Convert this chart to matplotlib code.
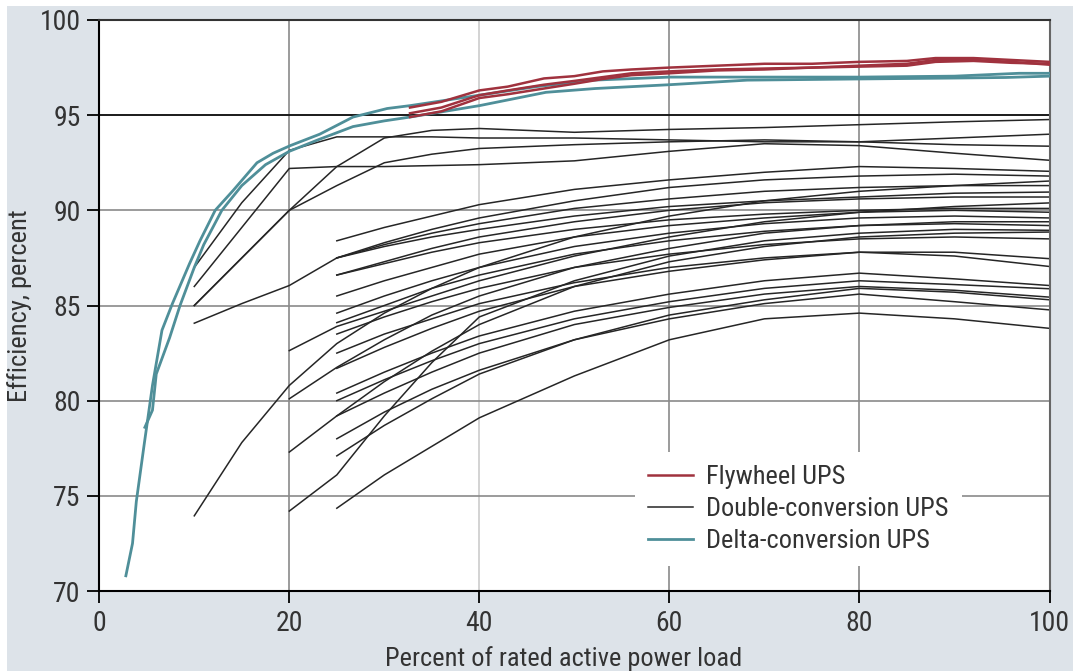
import matplotlib.pyplot as plt
import numpy as np
from matplotlib.patches import Rectangle

nan = np.nan

# load points (% of rated power) shared by the double-conversion curves
load_pct = [10, 15, 20, 25, 30, 35, 40, 50, 60, 70, 80, 90, 100]

# double-conversion UPS efficiency curves
dc_k1 = [87.0, 90.4, 93.15, 93.86, 93.86, 93.86, 93.8, 93.8, 93.7, 93.6, 93.6, 93.8, 94.0]
dc_k2 = [86.0, 89.1, 92.2, 92.3, 92.3, 92.35, 92.4, 92.6, 93.1, 93.5, 93.4, 93.0, 92.63]
dc_k3 = [85.0, 87.5, 90.0, 92.3, 93.8, 94.2, 94.3, 94.1, 94.25, 94.35, 94.5, 94.65, 94.77]
dc_k4 = [85.0, 87.5, 90.0, 91.3, 92.5, 92.95, 93.25, 93.45, 93.6, 93.7, 93.6, 93.45, 93.37]
dc_a5 = [84.07, 85.1, 86.05, 87.5, 88.1, 88.6, 89.0, 89.7, 90.2, 90.5, 90.7, 90.9, 90.96]
dc_a6 = [73.95, 77.8, 80.8, 83.0, 84.6, 85.9, 87.0, 88.6, 89.7, 90.5, 91.0, 91.3, 91.54]
dc_b1 = [nan, nan, 82.63, 83.9, 84.7, 85.5, 86.3, 87.6, 88.6, 89.4, 89.9, 90.2, 90.39]
dc_b2 = [nan, nan, 80.1, 81.75, 83.2, 84.5, 85.5, 87.0, 88.0, 88.8, 89.2, 89.4, 89.4]
dc_b3 = [nan, nan, 77.3, 79.2, 81.0, 82.6, 84.0, 86.0, 87.3, 88.1, 88.6, 88.8, 88.86]
dc_b4 = [nan, nan, 74.2, 76.1, 79.2, 82.0, 84.4, 86.3, 87.6, 88.4, 88.8, 89.0, 88.95]
dc_c1 = [nan, nan, nan, 88.4, 89.1, 89.7, 90.3, 91.1, 91.6, 92.0, 92.3, 92.2, 92.05]
dc_c2 = [nan, nan, nan, 87.5, 88.3, 89.0, 89.6, 90.5, 91.2, 91.6, 91.8, 91.9, 91.8]
dc_c3 = [nan, nan, nan, 87.5, 88.2, 88.8, 89.3, 90.1, 90.6, 91.0, 91.2, 91.3, 91.3]
dc_c4 = [nan, nan, nan, 86.6, 87.3, 88.0, 88.6, 89.4, 90.0, 90.4, 90.6, 90.7, 90.7]
dc_c5 = [nan, nan, nan, 86.6, 87.2, 87.8, 88.3, 89.0, 89.5, 89.8, 90.0, 90.1, 90.1]
dc_c6 = [nan, nan, nan, 85.5, 86.3, 87.0, 87.7, 88.6, 89.2, 89.6, 89.9, 90.0, 89.9]
dc_c7 = [nan, nan, nan, 84.6, 85.5, 86.3, 87.0, 88.1, 88.8, 89.3, 89.6, 89.7, 89.6]
dc_c8 = [nan, nan, nan, 84.1, 85.0, 85.9, 86.6, 87.7, 88.4, 88.9, 89.2, 89.3, 89.2]
dc_c9 = [nan, nan, nan, 83.5, 84.4, 85.2, 85.9, 87.0, 87.7, 88.2, 88.5, 88.6, 88.5]
dc_c10 = [nan, nan, nan, 82.5, 83.5, 84.3, 85.1, 86.2, 87.0, 87.5, 87.8, 87.8, 87.46]
dc_c11 = [nan, nan, nan, 81.7, 82.8, 83.8, 84.7, 86.0, 86.8, 87.4, 87.8, 87.6, 87.05]
dc_c12 = [nan, nan, nan, 80.4, 81.5, 82.5, 83.4, 84.7, 85.6, 86.3, 86.7, 86.4, 86.05]
dc_c13 = [nan, nan, nan, 80.0, 81.1, 82.1, 83.0, 84.3, 85.2, 85.9, 86.3, 86.1, 85.88]
dc_c14 = [nan, nan, nan, 79.2, 80.4, 81.5, 82.5, 84.0, 84.9, 85.6, 86.0, 85.8, 85.44]
dc_c15 = [nan, nan, nan, 78.0, 79.4, 80.6, 81.6, 83.2, 84.3, 85.1, 85.6, 85.2, 84.77]
dc_c16 = [nan, nan, nan, 77.1, 78.7, 80.1, 81.4, 83.2, 84.5, 85.3, 85.9, 85.7, 85.3]
dc_c17 = [nan, nan, nan, 74.35, 76.1, 77.6, 79.1, 81.3, 83.2, 84.3, 84.6, 84.3, 83.8]

double_conversion = [dc_k1, dc_k2, dc_k3, dc_k4, dc_a5, dc_a6, dc_b1, dc_b2, dc_b3,
                     dc_b4, dc_c1, dc_c2, dc_c3, dc_c4, dc_c5, dc_c6, dc_c7, dc_c8,
                     dc_c9, dc_c10, dc_c11, dc_c12, dc_c13, dc_c14, dc_c15, dc_c16, dc_c17]

# delta-conversion UPS
delta1_load = [2.8, 3.5, 3.9, 4.7, 5.6, 6.6, 7.7, 9.5, 10.6, 12.2, 14.1, 16.6, 18.3, 20.1,
               23.2, 26.7, 30.3, 32.7, 40, 46, 52, 60, 70, 80, 90, 96.8, 100]
delta1_eff = [70.8, 72.5, 74.7, 77.6, 80.8, 83.7, 85.1, 87.2, 88.4, 90.0, 91.05, 92.5, 93.0, 93.4,
              94.0, 94.9, 95.35, 95.5, 96.05, 96.5, 96.84, 97.0, 97.0, 97.0, 97.05, 97.2, 97.2]
delta2_load = [4.8, 5.6, 6.0, 7.4, 8.5, 10, 11, 12.9, 15, 17.5, 20, 23, 26.7, 30, 32.7,
               40, 47, 52.2, 60, 68.2, 79.5, 90, 95.4, 100]
delta2_eff = [78.6, 79.5, 81.4, 83.3, 85.0, 87.0, 88.2, 90.0, 91.3, 92.4, 93.1, 93.7, 94.4, 94.7, 94.9,
              95.5, 96.2, 96.4, 96.6, 96.84, 96.9, 96.95, 96.98, 97.05]

# flywheel UPS
fly_load = [32.7, 36, 40, 43, 46.8, 50, 53, 56, 60, 65, 70, 75, 80, 85, 88, 92, 96, 100]
fly_1 = [95.4, 95.7, 96.3, 96.5, 96.93, 97.05, 97.3, 97.4, 97.5, 97.6, 97.7, 97.7, 97.8, 97.85, 98.0, 98.0, 97.9, 97.8]
fly_2 = [95.1, 95.4, 96.05, 96.3, 96.6, 96.8, 97.0, 97.2, 97.3, 97.4, 97.45, 97.5, 97.6, 97.7, 97.9, 97.9, 97.8, 97.65]
fly_3 = [94.9, 95.2, 95.9, 96.1, 96.4, 96.65, 96.9, 97.1, 97.2, 97.35, 97.4, 97.5, 97.55, 97.6, 97.8, 97.85, 97.75, 97.7]

x_ticks = [0, 20, 40, 60, 80, 100]
y_ticks = [70, 75, 80, 85, 90, 95, 100]

RED = "#a0323e"
TEAL = "#4f8f99"
BLACK = "#262626"
TXT = "#333333"
FS = 19

plt.rcParams['font.family'] = ['Roboto Condensed', 'Liberation Sans', 'DejaVu Sans']

fig = plt.figure(figsize=(10.73, 6.71), dpi=100, facecolor="white")
fig.patches.append(Rectangle((0.0065, 0), 0.9935, 0.991, transform=fig.transFigure,
                             facecolor="#dde3e9", edgecolor="none", zorder=-10))
ax = fig.add_axes([0.0925, 0.1192, 0.8856, 0.851])
ax.set_facecolor("white")

# grid
for gx, gc in [(20, "#8a8a8a"), (40, "#cccccc"), (60, "#8a8a8a"), (80, "#8a8a8a")]:
    ax.axvline(gx, color=gc, lw=1.2, zorder=1)
for gy in [75, 80, 85, 90]:
    ax.axhline(gy, color="#8a8a8a", lw=1.2, zorder=1)
ax.axhline(95, color="#1a1a1a", lw=1.4, zorder=1)

for i, curve in enumerate(double_conversion):
    ax.plot(load_pct, curve, color=BLACK, lw=1.1, zorder=2,
            label="Double-conversion UPS" if i == 0 else None)

ax.plot(delta1_load, delta1_eff, color=TEAL, lw=2.0, zorder=3, label="Delta-conversion UPS")
ax.plot(delta2_load, delta2_eff, color=TEAL, lw=2.0, zorder=3)

ax.plot(fly_load, fly_1, color=RED, lw=1.8, zorder=4, label="Flywheel UPS")
ax.plot(fly_load, fly_2, color=RED, lw=1.8, zorder=4)
ax.plot(fly_load, fly_3, color=RED, lw=1.8, zorder=4)

ax.set_xlim(0, 100)
ax.set_ylim(70, 100)
ax.set_xticks(x_ticks)
ax.set_yticks(y_ticks)
ax.tick_params(direction="out", length=8.5, width=1.3, colors="black",
               labelsize=20, labelcolor=TXT, pad=5)

for side in ["left", "bottom"]:
    ax.spines[side].set_color("black")
    ax.spines[side].set_linewidth(1.5)
ax.spines["top"].set_color("#333333")
ax.spines["top"].set_linewidth(1.5)
ax.spines["right"].set_color("#666666")
ax.spines["right"].set_linewidth(1.5)

ax.set_xlabel("Percent of rated active power load", fontsize=FS, color=TXT, labelpad=7)
ax.xaxis.label.set_x(0.489)
ax.set_ylabel("Efficiency, percent", fontsize=FS, color=TXT, labelpad=5)

handles, labels = ax.get_legend_handles_labels()
order = [labels.index("Flywheel UPS"), labels.index("Double-conversion UPS"),
         labels.index("Delta-conversion UPS")]
leg = ax.legend([handles[i] for i in order], [labels[i] for i in order],
                loc="upper left", bbox_to_anchor=(0.564, 0.243), borderaxespad=0,
                frameon=True, facecolor="white", edgecolor="none", framealpha=1,
                fancybox=False, fontsize=FS, handlelength=1.7, handletextpad=0.5,
                labelspacing=0.3, borderpad=0.5)
for t in leg.get_texts():
    t.set_color(TXT)

fig.savefig("out.png", dpi=100, facecolor=fig.get_facecolor())
